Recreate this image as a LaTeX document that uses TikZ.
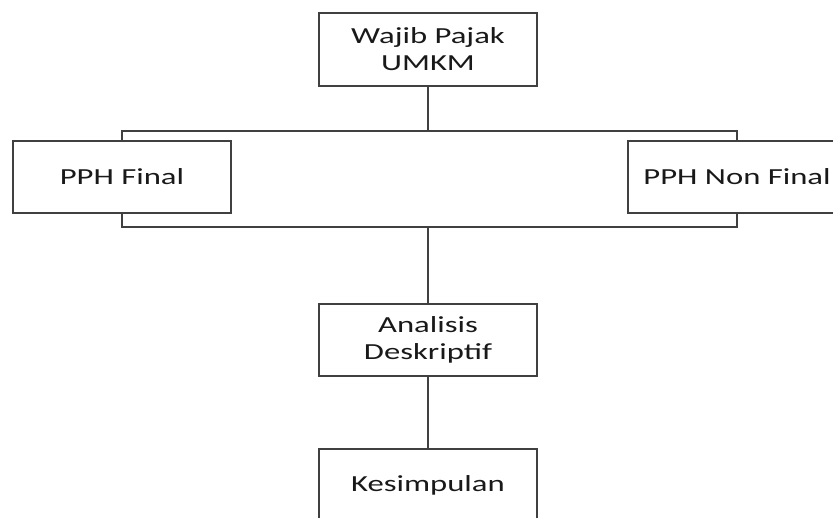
\documentclass[tikz,border=0pt]{standalone}
\usepackage{fontspec}
\setmainfont{Carlito}[FakeStretch=1.42]
\begin{document}
\begin{tikzpicture}[x=1pt,y=-1pt,
  line width=1.3pt,
  every node/.style={font=\fontsize{23}{27}\selectfont, text=black!90},
  box/.style={draw=black!75, fill=white, minimum width=218pt, minimum height=72pt, inner sep=0pt, align=center},
  link/.style={draw=black!75}]
\useasboundingbox (0,0) rectangle (833,518);
\clip (0,0) rectangle (833,518);
\fill[white] (0,0) rectangle (833,518);
\node[draw=black!75, minimum width=615pt, minimum height=96pt, inner sep=0pt] (bracket) at (429.5,179) {};
\node[box, minimum height=73pt] (top) at (428,49.5) {Wajib Pajak\\UMKM};
\node[box] (final) at (122,177) {PPH Final};
\node[box] (nonfinal) at (737,177) {PPH Non Final};
\node[box] (analisis) at (428,340) {Analisis\\Deskriptif};
\node[box] (kes) at (428,485) {Kesimpulan};
\draw[link] (top.south) -- (top.south |- bracket.north);
\draw[link] (analisis.north |- bracket.south) -- (analisis.north);
\draw[link] (analisis.south) -- (kes.north);
\end{tikzpicture}
\end{document}
